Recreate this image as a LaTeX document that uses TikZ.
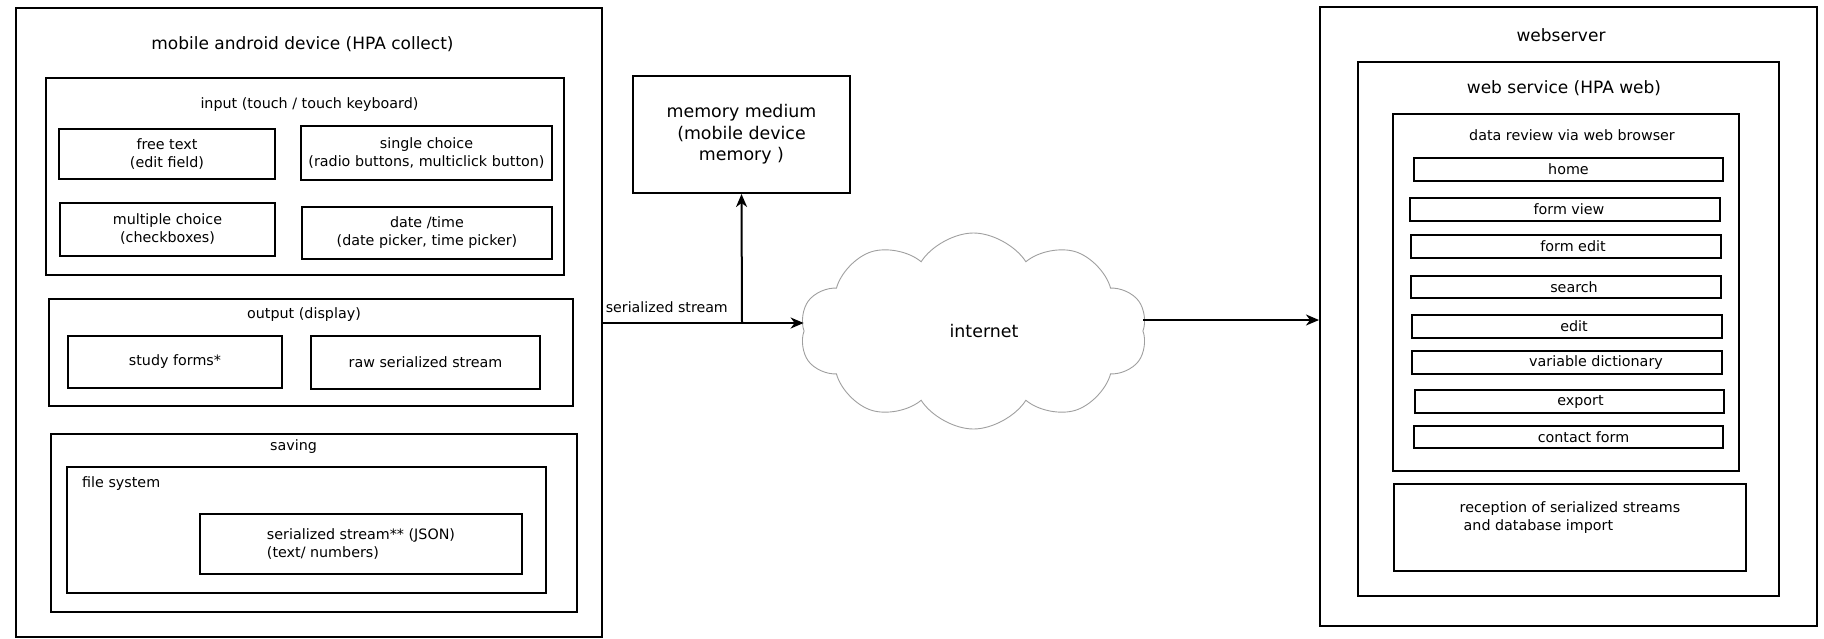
\documentclass[tikz,border=0pt]{standalone}
\usepackage{fontspec}
\setmainfont{DejaVu Sans}
\usetikzlibrary{shapes.symbols,arrows.meta}
\begin{document}
\begin{tikzpicture}[x=1pt,y=-1pt,
  bb/.style n args={4}{at={({(#1+#3)/2},{(#2+#4)/2})},
      minimum width={(#3-#1)*1pt}, minimum height={(#4-#2)*1pt}},
  box/.style={draw, line width=2pt, rectangle, inner sep=0pt},
  nf/.style={font=\fontsize{14.3}{18}\selectfont},
  sm/.style={nf, align=center},
  item/.style={box, nf},
  lg/.style={font=\fontsize{17}{20}\selectfont, inner sep=0pt},
  conn/.style={line width=2pt, -{Stealth[length=13pt,width=11pt,inset=4pt]}},
]
\useasboundingbox (0,0) rectangle (1824,638);

% ---------------- mobile device ----------------
\node[box, bb={16}{8}{602}{637}] (mob) {};
\node[lg] (mobt) at (302.5,44) {mobile android device (HPA collect)};

\node[box, bb={46}{78}{564}{275}] (inp) {};
\node[nf, inner sep=0pt] (inpt) at (309.5,105) {input (touch / touch keyboard)};
\node[box, sm, bb={59}{129}{275}{179}] (free) {free text\\(edit field)};
\node[box, sm, bb={301}{126}{552}{180}] (single) {single choice\\(radio buttons, multiclick button)};
\node[box, sm, bb={60}{203}{275}{256}] (multi) {multiple choice\\(checkboxes)};
\node[box, sm, bb={302}{207}{552}{259}] (date) {date /time\\(date picker, time picker)};

\node[box, bb={49}{299}{573}{406}] (out) {};
\node[nf, inner sep=0pt] (outt) at (304,315) {output (display)};
\node[box, sm, bb={68}{336}{282}{388}] (study) {study forms*};
\node[box, sm, bb={311}{336}{540}{389}] (raw) {raw serialized stream};

\node[box, bb={51}{434}{577}{612}] (sav) {};
\node[nf, inner sep=0pt] (savt) at (293.5,447) {saving};
\node[box, bb={67}{467}{546}{593}] (fs) {};
\node[nf, inner sep=0pt, anchor=west] (fst) at (82,484) {file system};
\node[box, nf, bb={200}{514}{522}{574}, align=left] (ser) {serialized stream** (JSON)\\(text/ numbers)};

% ---------------- memory ----------------
\node[box, bb={633}{76}{850}{193}, font=\fontsize{17.4}{21.5}\selectfont, align=center] (mem) {memory medium\\(mobile device\\memory )};

% ---------------- cloud ----------------
\node[cloud, draw=gray!75, line width=0.9pt, cloud puffs=10, cloud puff arc=115,
      cloud ignores aspect, minimum width=347pt, minimum height=196pt, inner sep=0pt,
      font=\fontsize{17.4}{20}\selectfont] (net) at (973.5,331) {\hspace*{21pt}internet};

% ---------------- webserver ----------------
\node[box, bb={1320}{7}{1817}{626}] (ws) {};
\node[lg] (wst) at (1561,35) {webserver};
\node[box, bb={1358}{62}{1779}{596}] (wsv) {};
\node[lg] (wsvt) at (1564,88) {web service (HPA web)};
\node[box, bb={1393}{114}{1739}{471}] (rev) {};
\node[nf, inner sep=0pt] (revt) at (1572,135) {data review via web browser};
\node[item, bb={1414}{158}{1723}{181}] (home) {home};
\node[item, bb={1410}{198}{1720}{221}] (fview) {\hspace*{8pt}form view};
\node[item, bb={1411}{235}{1721}{258}] (fedit) {\hspace*{14pt}form edit};
\node[item, bb={1411}{276}{1721}{298}] (search) {\hspace*{16pt}search};
\node[item, bb={1412}{315}{1722}{338}] (edit) {\hspace*{14pt}edit};
\node[item, bb={1412}{351}{1722}{374}] (vdict) {\hspace*{58pt}variable dictionary};
\node[item, bb={1415}{390}{1724}{413}] (export) {\hspace*{22pt}export};
\node[item, bb={1414}{426}{1723}{448}] (contact) {\hspace*{30pt}contact form};
\node[box, nf, bb={1394}{484}{1746}{571}, align=left] (rec) {reception of serialized streams\\\hspace*{4pt}and database import\\[4pt]\mbox{}};

% ---------------- connectors ----------------
\coordinate (j) at (742,323);
\coordinate (k) at (1200,320);
\draw[conn] (mob.east |- j) -- (net.west |- j);
\draw[conn] (j) -- (mem.south);
\draw[conn] (net.east |- k) -- (ws.west |- k);
\node[font=\fontsize{14.2}{16}\selectfont, inner sep=0pt, anchor=base east] (sst) at (728,312) {serialized stream};
\end{tikzpicture}
\end{document}
